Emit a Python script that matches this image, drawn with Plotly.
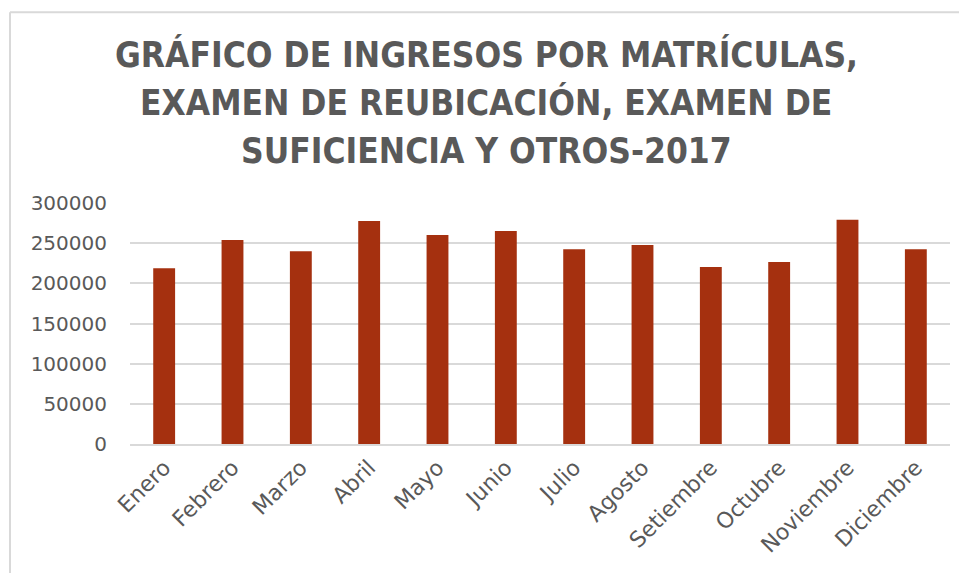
import plotly.graph_objects as go

months = ["Enero", "Febrero", "Marzo", "Abril", "Mayo", "Junio", "Julio",
          "Agosto", "Setiembre", "Octubre", "Noviembre", "Diciembre"]
ingresos = [218800, 254000, 240000, 277600, 260200, 265200, 242400,
            247800, 220400, 226600, 279200, 242400]
y_ticks = [0, 50000, 100000, 150000, 200000, 250000, 300000]
title_lines = ["GRÁFICO DE INGRESOS POR MATRÍCULAS,",
               "EXAMEN DE REUBICACIÓN, EXAMEN DE",
               "SUFICIENCIA Y OTROS-2017"]

# page body adds an 8px margin on every side, so the figure fits inside it
W, H = 951, 565
ml, mr, mt, mb = 122, 9, 195, 128.7
PW, PH = W - ml - mr, H - mt - mb


def px_x(px):
    return (px - ml) / PW


def px_y(py):
    return (H - mb - py) / PH


fig = go.Figure()
fig.add_trace(go.Bar(x=months, y=ingresos,
                     marker=dict(color="#A5300F", line=dict(width=0))))

ytick_font = dict(family="DejaVu Sans, Liberation Sans, sans-serif", size=20, color="#595959")
xtick_font = dict(family="DejaVu Sans, Liberation Sans, sans-serif", size=22, color="#595959")

fig.update_layout(
    width=W, height=H,
    margin=dict(l=ml, r=mr, t=mt, b=mb, autoexpand=False),
    paper_bgcolor="white", plot_bgcolor="white",
    bargap=0.68,
    showlegend=False,
    xaxis=dict(
        tickangle=-45, tickfont=xtick_font, showgrid=False,
        showline=True, linecolor="#d9d9d9", linewidth=2,
        ticks="", automargin=False,
    ),
    yaxis=dict(
        range=[0, 300000], tickvals=y_ticks, ticktext=[str(v) for v in y_ticks],
        tickfont=ytick_font, showgrid=True, gridcolor="#d9d9d9", gridwidth=1.5,
        zeroline=False, showline=False, ticks="", ticklabelstandoff=22,
        automargin=False,
    ),
)

title_font = dict(family="DejaVu Sans Condensed, Liberation Sans Narrow, DejaVu Sans, sans-serif",
                  size=35, color="#595959", weight="bold")
for line, cy in zip(title_lines, [46, 94.5, 143]):
    fig.add_annotation(text=line, xref="paper", yref="paper",
                       x=px_x(478), y=px_y(cy), xanchor="center", yanchor="middle",
                       showarrow=False, font=title_font)

# chart-area border (Excel style): only top and left edges are visible
fig.add_shape(type="line", xref="paper", yref="paper",
              x0=px_x(2), x1=px_x(W + 50), y0=px_y(4), y1=px_y(4),
              line=dict(color="#d9d9d9", width=2), layer="below")
fig.add_shape(type="line", xref="paper", yref="paper",
              x0=px_x(2), x1=px_x(2), y0=px_y(4), y1=px_y(H + 50),
              line=dict(color="#d9d9d9", width=2), layer="below")

fig.write_html("out.html")
